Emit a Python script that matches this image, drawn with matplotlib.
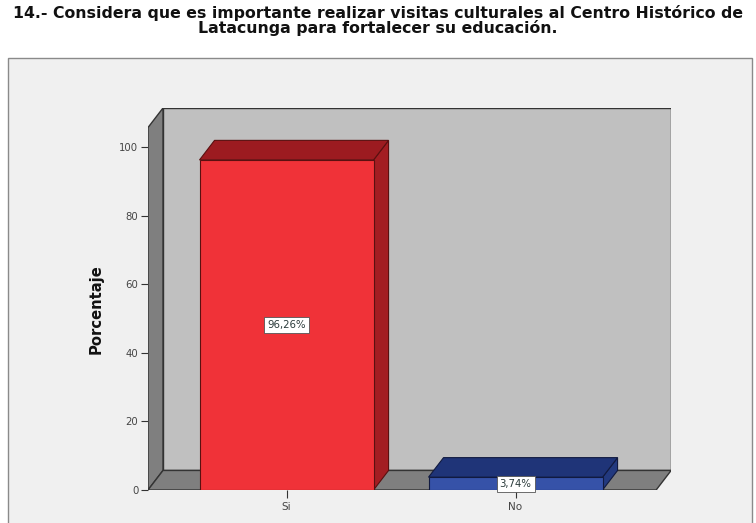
import matplotlib.pyplot as plt
from matplotlib.patches import Polygon, Rectangle

# Pregunta 14: visitas culturales al Centro Historico de Latacunga
categorias = ['Si', 'No']
porcentajes = [96.26, 3.74]
etiquetas = ['96,26%', '3,74%']
yticks = [0, 20, 40, 60, 80, 100]

titulo = ('14.- Considera que es importante realizar visitas culturales al Centro Histórico de\n'
          'Latacunga para fortalecer su educación.')

colores_frente = ['#f03238', '#3652a8']
colores_techo = ['#9c1b20', '#1f3478']
colores_lado = ['#a31d22', '#22397f']
bordes = ['#5a1010', '#111a40']

# geometria del "3D" estilo SPSS
ancho = 0.76
dx, dy = 0.0655, 5.7
xl, xr = -0.605, 1.614
ytop = 111.4

fig = plt.figure(figsize=(7.56, 5.23), dpi=100)
fig.patch.set_facecolor('white')

# marco exterior del grafico
fig.add_artist(Rectangle((8 / 756, -0.05), 744 / 756, (523 - 58) / 523 + 0.05,
                         transform=fig.transFigure, facecolor='#f0f0f0',
                         edgecolor='#8a8a8a', linewidth=1.0, zorder=0))

fig.text(0.5, 1 - 20.5 / 523, titulo, ha='center', va='center', fontsize=11.3,
         fontweight='bold', family='DejaVu Sans', linespacing=0.9, color='#111111')

ax = fig.add_axes([148 / 756, (523 - 490) / 523, 523 / 756, 382 / 523])
ax.set_xlim(xl, xl + 523 / 229)
ax.set_ylim(0, ytop)
ax.patch.set_alpha(0)
for s in ax.spines.values():
    s.set_visible(False)

edge = '#333333'
# pared del fondo
ax.add_patch(Rectangle((xl + dx, dy), xr - xl, ytop - dy, facecolor='#c0c0c0',
                       edgecolor=edge, linewidth=1.0, zorder=1))
# pared izquierda
ax.add_patch(Polygon([(xl, 0), (xl + dx, dy), (xl + dx, ytop), (xl, ytop - dy)],
                     closed=True, facecolor='#7f7f7f', edgecolor=edge, linewidth=1.0, zorder=2))
# piso
ax.add_patch(Polygon([(xl, 0), (xr, 0), (xr + dx, dy), (xl + dx, dy)],
                     closed=True, facecolor='#7f7f7f', edgecolor=edge, linewidth=1.0, zorder=2))

for i, v in enumerate(porcentajes):
    x0, x1 = i - ancho / 2, i + ancho / 2
    ax.add_patch(Polygon([(x1, 0), (x1 + dx, dy), (x1 + dx, v + dy), (x1, v)],
                         closed=True, facecolor=colores_lado[i], edgecolor=bordes[i],
                         linewidth=0.8, zorder=3))
    ax.add_patch(Polygon([(x0, v), (x1, v), (x1 + dx, v + dy), (x0 + dx, v + dy)],
                         closed=True, facecolor=colores_techo[i], edgecolor=bordes[i],
                         linewidth=0.8, zorder=3))
    ax.add_patch(Rectangle((x0, 0), ancho, v, facecolor=colores_frente[i],
                           edgecolor=bordes[i], linewidth=0.8, zorder=4))
    ax.text(i, v / 2, etiquetas[i], ha='center', va='center', fontsize=7.3,
            family='DejaVu Sans', color='#2a3a3a', zorder=6,
            bbox=dict(boxstyle='square,pad=0.3', facecolor='white', edgecolor='#555555', linewidth=0.6))

ax.set_yticks(yticks)
ax.set_yticklabels([str(t) for t in yticks], fontsize=7.3, color='#444444', family='DejaVu Sans')
ax.set_xticks(range(len(categorias)))
ax.set_xticklabels(categorias, fontsize=7.5, color='#444444', family='DejaVu Sans')
ax.tick_params(axis='y', direction='out', length=5, width=0.8, color='#333333', pad=2)
ax.tick_params(axis='x', direction='out', length=6, width=0.8, color='#333333', pad=3)

ax.set_ylabel('Porcentaje', fontsize=10.6, fontweight='bold', family='DejaVu Sans',
              color='#111111')
ax.yaxis.set_label_coords(-0.084, 0.474)

fig.savefig('out.png', dpi=100)
